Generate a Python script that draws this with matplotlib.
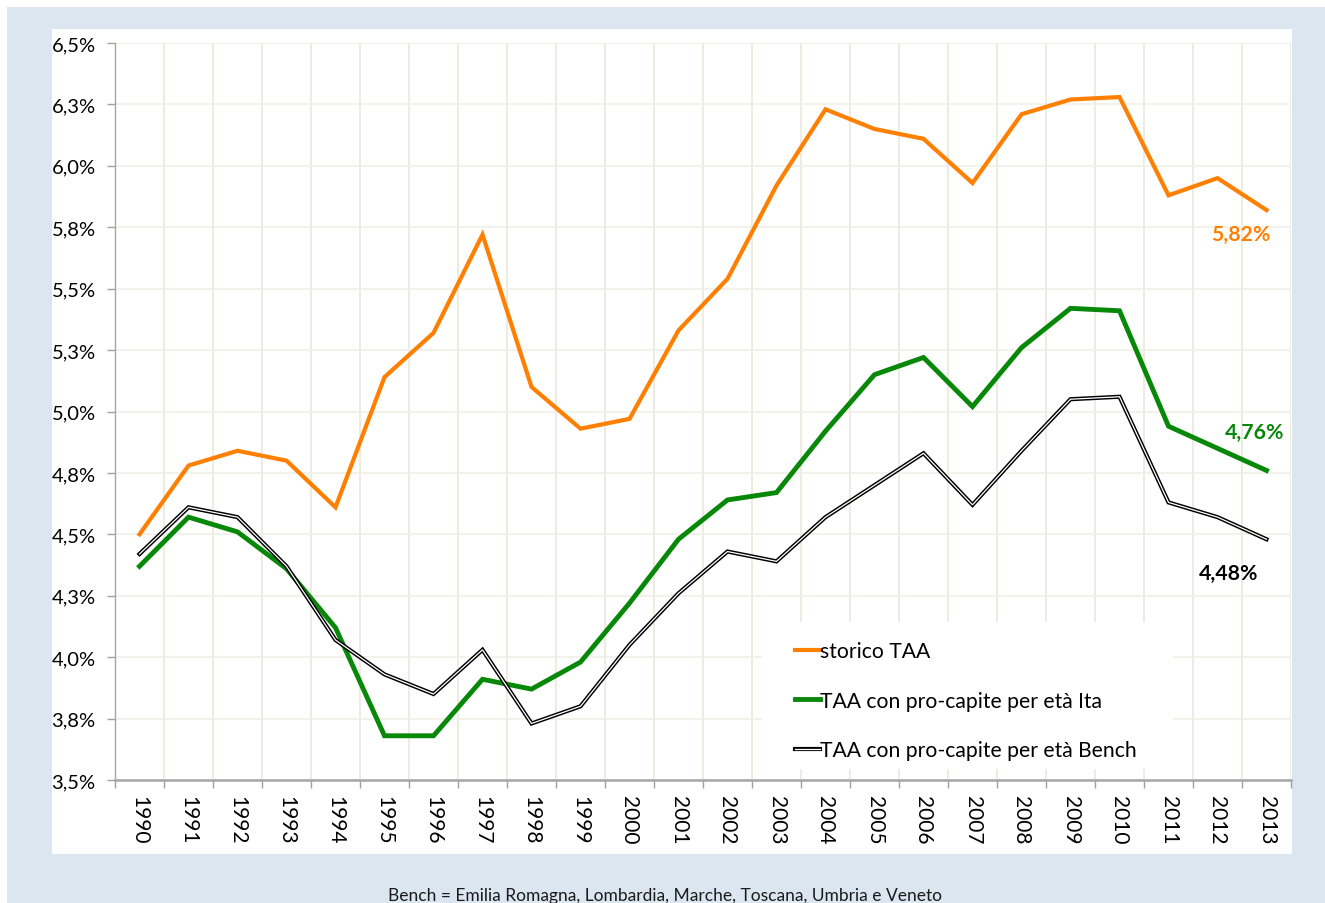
import matplotlib
matplotlib.use("Agg")
import matplotlib.pyplot as plt
from matplotlib.patches import Rectangle
from matplotlib.lines import Line2D
from matplotlib.ticker import FixedLocator, FuncFormatter

plt.rcParams['font.family'] = ['Lato', 'DejaVu Sans']

years = [str(y) for y in range(1990, 2014)]
storico = [4.50, 4.78, 4.84, 4.80, 4.61, 5.14, 5.32, 5.72, 5.10, 4.93, 4.97, 5.33,
           5.54, 5.92, 6.23, 6.15, 6.11, 5.93, 6.21, 6.27, 6.28, 5.88, 5.95, 5.82]
ita = [4.37, 4.57, 4.51, 4.36, 4.12, 3.68, 3.68, 3.91, 3.87, 3.98, 4.22, 4.48,
       4.64, 4.67, 4.92, 5.15, 5.22, 5.02, 5.26, 5.42, 5.41, 4.94, 4.85, 4.76]
bench = [4.42, 4.61, 4.57, 4.37, 4.07, 3.93, 3.85, 4.03, 3.73, 3.80, 4.05, 4.26,
         4.43, 4.39, 4.57, 4.70, 4.83, 4.62, 4.84, 5.05, 5.06, 4.63, 4.57, 4.48]
labels = ["storico TAA", "TAA con pro-capite per età Ita", "TAA con pro-capite per età Bench"]
yticks = [3.5, 3.75, 4.0, 4.25, 4.5, 4.75, 5.0, 5.25, 5.5, 5.75, 6.0, 6.25, 6.5]
footer = "Bench = Emilia Romagna, Lombardia, Marche, Toscana, Umbria e Veneto"

ORANGE = "#FF7F00"
GREEN = "#088808"
BLUE_BG = "#DCE6F0"

W, H = 1325, 904
fig = plt.figure(figsize=(W / 100, H / 100), dpi=100, facecolor="white")

def fx(px):
    return px / W

def fy(py):
    return (H - py) / H

# blue backdrop and white panel
fig.add_artist(Rectangle((fx(7), 0), 1 - fx(7), fy(8), transform=fig.transFigure,
                         facecolor=BLUE_BG, edgecolor="none", zorder=-10))
fig.add_artist(Rectangle((fx(52), fy(855)), fx(1292) - fx(52), fy(30) - fy(855),
                         transform=fig.transFigure, facecolor="white",
                         edgecolor="none", zorder=-9))

ax = fig.add_axes([fx(115), fy(781), fx(1291) - fx(115), fy(44) - fy(781)])
ax.set_facecolor("white")

x = list(range(len(years)))
ax.set_xlim(-0.5, len(years) - 0.5)
ax.set_ylim(yticks[0], yticks[-1])

# ticks
ax.xaxis.set_major_locator(FixedLocator(x))
ax.set_xticklabels(years, rotation=270, fontsize=15, color="#000000")
ax.xaxis.set_minor_locator(FixedLocator([i - 0.5 for i in range(len(years) + 1)]))
ax.tick_params(axis="x", which="major", length=0, pad=11)
ax.tick_params(axis="x", which="minor", length=6, color="#a0a0a0", width=1)
ax.yaxis.set_major_locator(FixedLocator(yticks))
ax.yaxis.set_major_formatter(FuncFormatter(
    lambda v, p: f"{v + 1e-9:.1f}".replace(".", ",") + "%"))
ax.tick_params(axis="y", which="major", length=6, color="#a0a0a0", width=1,
               labelsize=14.5, pad=8)

# grid
ax.set_axisbelow(True)
ax.grid(True, axis="x", which="minor", color="#EAE6D6", linewidth=1.1)
ax.grid(True, axis="y", which="major", color="#F1F0E8", linewidth=1.3)
ax.grid(False, axis="x", which="major")

for s in ["top", "right"]:
    ax.spines[s].set_visible(False)
ax.spines["left"].set_color("#a6a6a6")
ax.spines["left"].set_linewidth(1.0)
ax.spines["bottom"].set_color("#a6a6a6")
ax.spines["bottom"].set_linewidth(1.8)

# legend box (covers gridlines)
ax.add_patch(Rectangle((fx(762), fy(770)), fx(1173) - fx(762), fy(623) - fy(770),
                       transform=fig.transFigure, facecolor="white",
                       edgecolor="none", zorder=1, clip_on=False))

# lines
l1, = ax.plot(x, storico, color=ORANGE, linewidth=3.0, zorder=3,
              solid_joinstyle="miter")
l2, = ax.plot(x, ita, color=GREEN, linewidth=3.5, zorder=3,
              solid_joinstyle="miter")
l3a, = ax.plot(x, bench, color="black", linewidth=3.0, zorder=4,
               solid_joinstyle="miter")
l3b, = ax.plot(x, bench, color="white", linewidth=0.9, zorder=5,
               solid_joinstyle="miter")

# end labels
def fmt(v):
    return f"{v:.2f}".replace(".", ",") + "%"

ax.annotate(fmt(storico[-1]), xy=(x[-1], storico[-1]), xytext=(-18.5, -17.5),
            textcoords="offset points", ha="center", va="center",
            fontsize=15.3, fontweight="bold", color=ORANGE, zorder=6)
ax.annotate(fmt(ita[-1]), xy=(x[-1], ita[-1]), xytext=(-8.5, 28),
            textcoords="offset points", ha="center", va="center",
            fontsize=15.3, fontweight="bold", color=GREEN, zorder=6)
ax.annotate(fmt(bench[-1]), xy=(x[-1], bench[-1]), xytext=(-27.5, -24),
            textcoords="offset points", ha="center", va="center",
            fontsize=15.3, fontweight="bold", color="black", zorder=6)

# legend
h1 = Line2D([], [], color=ORANGE, linewidth=3.0)
h2 = Line2D([], [], color=GREEN, linewidth=3.5)
h3a = Line2D([], [], color="black", linewidth=3.0)
h3b = Line2D([], [], color="white", linewidth=0.9)
leg = ax.legend([h1, h2, (h3a, h3b)], labels, loc="upper left",
                bbox_to_anchor=(fx(795), fy(642)), bbox_transform=fig.transFigure,
                frameon=False, fontsize=15.2, handlelength=1.2, handletextpad=0.0,
                borderpad=0.0, borderaxespad=0.0, labelspacing=1.4)
leg.set_zorder(6)

fig.text(fx(665), fy(896), footer, ha="center", va="center", fontsize=12.5,
         color="#1a1a1a")

fig.savefig("out.png", dpi=100, facecolor="white")
